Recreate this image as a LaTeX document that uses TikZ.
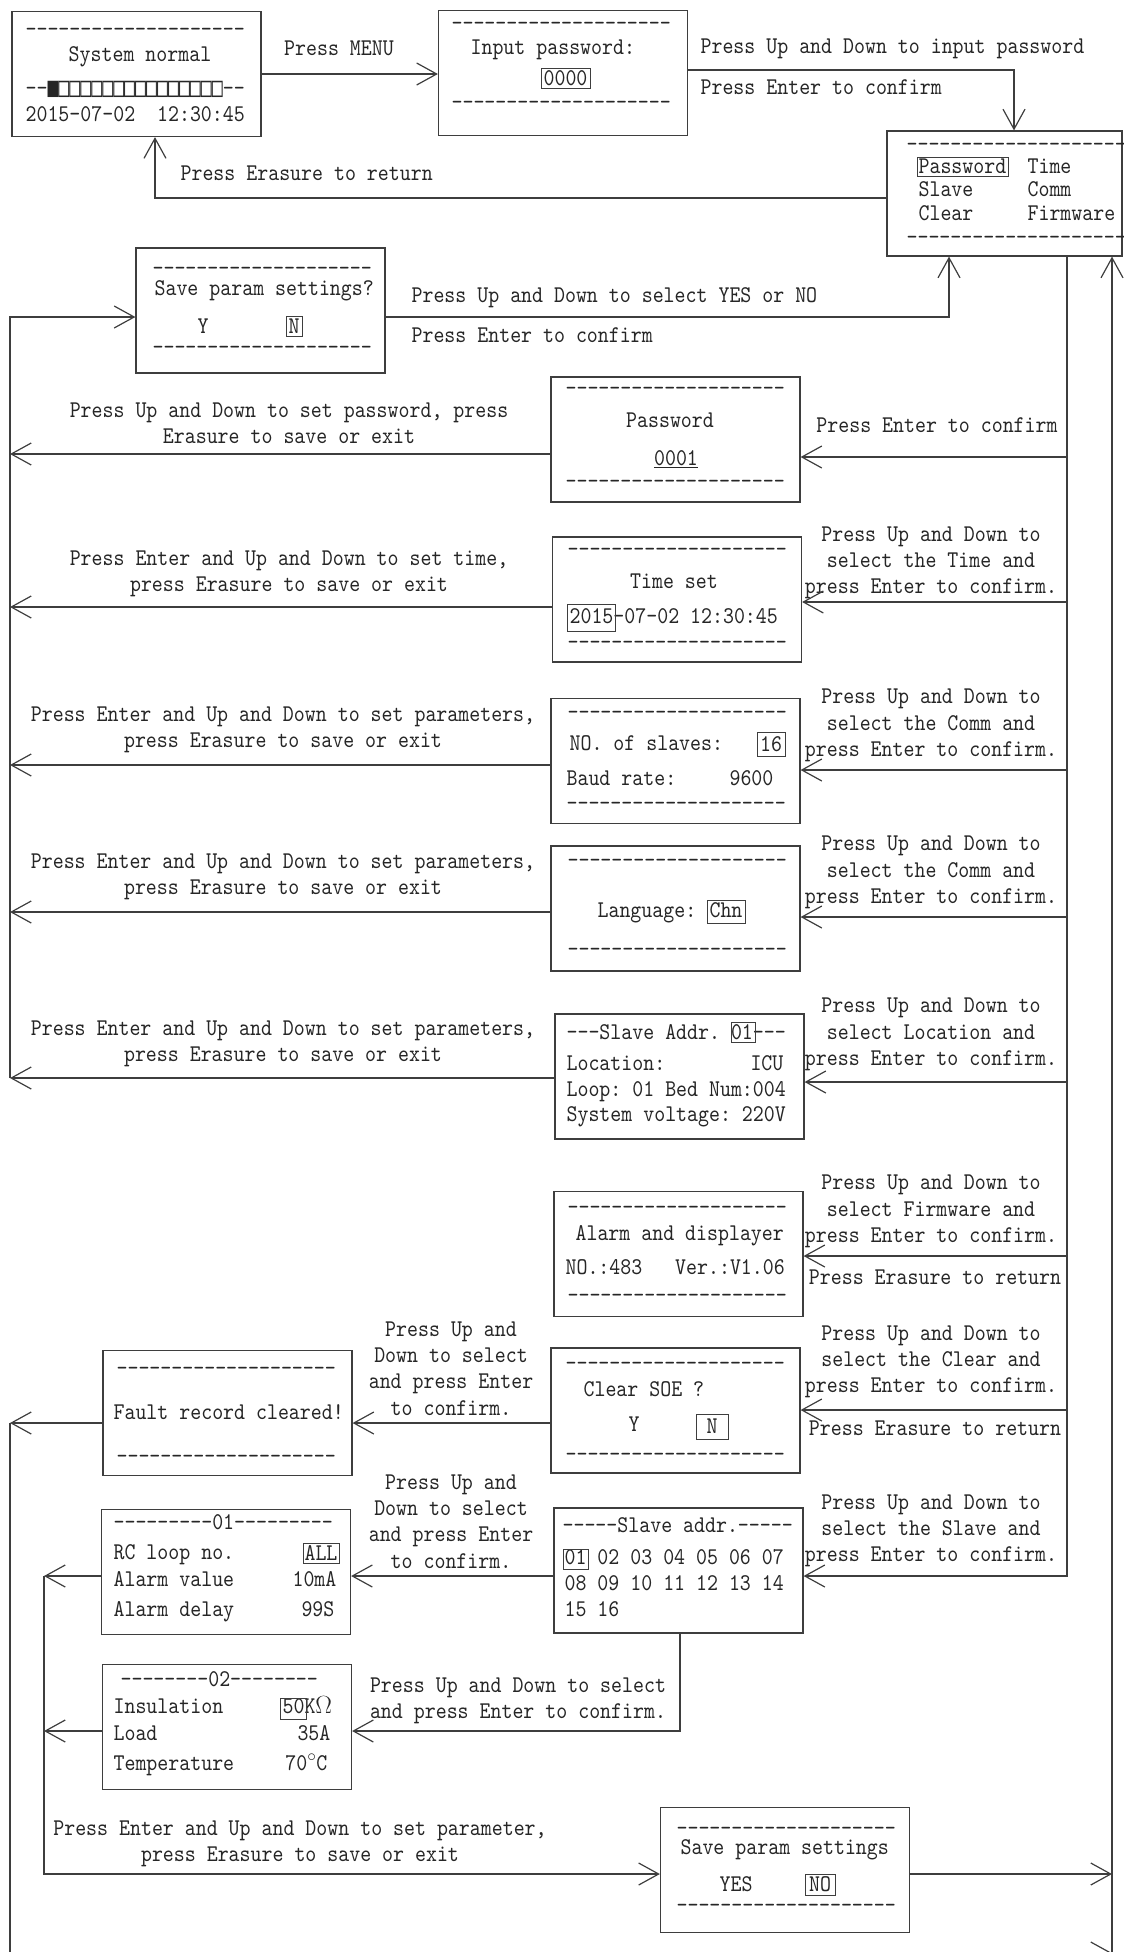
\documentclass[tikz,border=0pt]{standalone}
\usepackage{fontspec}
\usetikzlibrary{arrows.meta}
\newfontfamily\glyphfont{DejaVu Sans Mono}
\newfontfamily\lcdface{lmmono10-regular.otf}[FakeStretch=0.87]
\definecolor{ink}{HTML}{3E3E3E}
\newcommand{\lcdfont}{\lcdface\fontsize{24pt}{26.3pt}\selectfont\frenchspacing}
\newcommand{\dashes}[1]{\foreach \dd in {1,...,#1}{-\kern0pt}}
\newcommand{\sqfont}{\glyphfont\fontsize{18.2pt}{20pt}\selectfont}

\tikzset{
    screen/.style={draw, minimum width=249pt, minimum height=125pt, inner sep=0pt},
    lcd/.style={font=\lcdfont, inner sep=0pt, text height=14.6pt, text depth=0pt},
    note/.style={font=\lcdfont, inner sep=0pt, align=center},
    cursor/.style={draw, inner sep=0pt, line width=1pt},
    flow/.style={->}
}

\begin{document}
\begin{tikzpicture}[x=1pt, y=-1pt, color=ink, text=black!85, line width=1.2pt, >={Straight Barb[length=20pt,width=22pt]}]
    \useasboundingbox (0,0) rectangle (1124,1952);

    % screens
    \node[screen] (sys) at (136.5,74) {};
    \node[screen] (pwin) at (563,73) {};
    \node[screen, minimum width=235pt] (menu) at (1004.5,193.5) {};
    \node[screen] (saveq) at (260.5,310.5) {};
    \node[screen] (pwset) at (675.5,439.5) {};
    \node[screen] (tmset) at (677,599.5) {};
    \node[screen] (comm) at (675.5,761) {};
    \node[screen] (lang) at (675.5,908.5) {};
    \node[screen] (slv) at (679.5,1076.5) {};
    \node[screen] (fw) at (678.5,1254) {};
    \node[screen] (clr) at (675.5,1410.5) {};
    \node[screen] (done) at (227.5,1413) {};
    \node[screen] (sel) at (678.5,1570.5) {};
    \node[screen] (lp1) at (226,1572) {};
    \node[screen] (lp2) at (227,1727) {};
    \node[screen] (fin) at (785,1870) {};

    % screen contents
    \node[lcd, anchor=west] (sys1) at (25,29) {\dashes{20}};
    \node[lcd] (sys2) at (140,54) {System normal};
    \node[lcd, anchor=west] (sys3) at (25,88) {\dashes{2}\raisebox{-1pt}{\scalebox{1}[1.5]{\sqfont ■□□□□□□□□□□□□□□□}}\dashes{2}};
    \node[lcd, anchor=west] (sys4) at (25,114) {2015-07-02~~12:30:45};

    \node[lcd, anchor=west] (pwin1) at (451,23) {\dashes{20}};
    \node[lcd, anchor=west] (pwin2) at (470,47) {Input password:};
    \node[lcd] (pwin3) at (565.5,78) {0000};
    \node[cursor, minimum width=49pt, minimum height=20pt] (pwin4) at (565.5,78) {};
    \node[lcd, anchor=west] (pwin5) at (451,102) {\dashes{20}};

    \node[lcd, anchor=west] (m0) at (906,144) {\dashes{20}};
    \node[lcd, anchor=west] (m1) at (918,166) {Password};
    \node[cursor, minimum width=91pt, minimum height=19pt] (m1c) at (962.5,166.5) {};
    \node[lcd, anchor=west] (m2) at (1027,166) {Time};
    \node[lcd, anchor=west] (m3) at (918,189) {Slave};
    \node[lcd, anchor=west] (m4) at (1027,189) {Comm};
    \node[lcd, anchor=west] (m5) at (918,213) {Clear};
    \node[lcd, anchor=west] (m6) at (1027,213) {Firmware};
    \node[lcd, anchor=west] (m7) at (906,237) {\dashes{20}};

    \node[lcd, anchor=west] (sq1) at (152,268) {\dashes{20}};
    \node[lcd, anchor=west] (sq2) at (154,288) {Save param settings?};
    \node[lcd] (sq3) at (203,326) {Y};
    \node[lcd] (sq4) at (294,326) {N};
    \node[cursor, minimum width=16pt, minimum height=20pt] (sq5) at (294,326.5) {};
    \node[lcd, anchor=west] (sq6) at (152,347) {\dashes{20}};

    \node[lcd, anchor=west] (ps1) at (565,388) {\dashes{20}};
    \node[lcd] (ps2) at (670,420) {Password};
    \node[lcd] (ps3) at (676,458) {\underline{0001}};
    \node[lcd, anchor=west] (ps4) at (565,481) {\dashes{20}};

    \node[lcd, anchor=west] (ts1) at (567,549) {\dashes{20}};
    \node[lcd] (ts2) at (674,581) {Time set};
    \node[lcd, anchor=west] (ts3) at (569,616) {2015-07-02 12:30:45};
    \node[cursor, minimum width=48pt, minimum height=27pt] (ts4) at (591,617.5) {};
    \node[lcd, anchor=west] (ts5) at (567,642) {\dashes{20}};

    \node[lcd, anchor=west] (cm1) at (567,712) {\dashes{20}};
    \node[lcd, anchor=west] (cm2) at (569,743) {NO. of slaves:};
    \node[lcd] (cm3) at (771,744) {16};
    \node[cursor, minimum width=28pt, minimum height=24pt] (cm4) at (771,744) {};
    \node[lcd, anchor=west] (cm5) at (566,778) {Baud rate:};
    \node[lcd, anchor=east] (cm6) at (774,778) {9600};
    \node[lcd, anchor=west] (cm7) at (566,803) {\dashes{20}};

    \node[lcd, anchor=west] (lg1) at (567,860) {\dashes{20}};
    \node[lcd, anchor=west] (lg2) at (597,910) {Language:};
    \node[lcd] (lg3) at (726,910) {Chn};
    \node[cursor, minimum width=38pt, minimum height=23pt] (lg4) at (726,911.5) {};
    \node[lcd, anchor=west] (lg5) at (567,949) {\dashes{20}};

    \node[lcd, anchor=west] (sa1) at (566,1032) {\dashes{3}Slave Addr. 01\dashes{3}};
    \node[cursor, minimum width=24pt, minimum height=20pt] (sa2) at (743,1032) {};
    \node[lcd, anchor=west] (sa3) at (566,1063) {Location:};
    \node[lcd, anchor=east] (sa4) at (784,1063) {ICU};
    \node[lcd, anchor=west] (sa5) at (566,1089) {Loop: 01 Bed Num:004};
    \node[lcd, anchor=west] (sa6) at (566,1114) {System voltage: 220V};

    \node[lcd, anchor=west] (fw1) at (567,1207) {\dashes{20}};
    \node[lcd, anchor=west] (fw2) at (575,1233) {Alarm and displayer};
    \node[lcd, anchor=west] (fw3) at (565,1267) {NO.:483~~~Ver.:V1.06};
    \node[lcd, anchor=west] (fw4) at (567,1295) {\dashes{20}};

    \node[lcd, anchor=west] (cl1) at (565,1363) {\dashes{20}};
    \node[lcd, anchor=west] (cl2) at (583,1389) {Clear SOE ?};
    \node[lcd] (cl3) at (634,1424) {Y};
    \node[lcd] (cl4) at (712,1426) {N};
    \node[cursor, minimum width=32pt, minimum height=25pt] (cl5) at (712,1426.5) {};
    \node[lcd, anchor=west] (cl6) at (565,1454) {\dashes{20}};

    \node[lcd, anchor=west] (dn1) at (116,1368) {\dashes{20}};
    \node[lcd, anchor=west] (dn2) at (113,1412) {Fault record cleared!};
    \node[lcd, anchor=west] (dn3) at (116,1456) {\dashes{20}};

    \node[lcd, anchor=west] (se1) at (562,1525) {\dashes{5}Slave addr.\dashes{5}};
    \node[lcd, anchor=west] (se2) at (564,1557) {01 02 03 04 05 06 07};
    \node[cursor, minimum width=25pt, minimum height=20pt] (se3) at (575.5,1559) {};
    \node[lcd, anchor=west] (se4) at (564,1583) {08 09 10 11 12 13 14};
    \node[lcd, anchor=west] (se5) at (564,1609) {15 16};

    \node[lcd, anchor=west] (l1a) at (113,1522) {\dashes{9}01\dashes{9}};
    \node[lcd, anchor=west] (l1b) at (113,1552) {RC loop no.};
    \node[lcd] (l1c) at (321,1553) {ALL};
    \node[cursor, minimum width=36pt, minimum height=20pt] (l1d) at (321,1553) {};
    \node[lcd, anchor=west] (l1e) at (113,1579) {Alarm value};
    \node[lcd, anchor=east] (l1f) at (337,1579) {10mA};
    \node[lcd, anchor=west] (l1g) at (113,1609) {Alarm delay};
    \node[lcd, anchor=east] (l1h) at (335,1609) {99S};

    \node[lcd, anchor=west] (l2a) at (120,1679) {\dashes{8}02\dashes{8}};
    \node[lcd, anchor=west] (l2b) at (113,1706) {Insulation};
    \node[lcd, anchor=west] (l2c) at (282,1706) {50K$\Omega$};
    \node[cursor, minimum width=26pt, minimum height=21pt] (l2d) at (293,1708.5) {};
    \node[lcd, anchor=west] (l2e) at (113,1733) {Load};
    \node[lcd, anchor=east] (l2f) at (331,1733) {35A};
    \node[lcd, anchor=west] (l2g) at (113,1763) {Temperature};
    \node[lcd, anchor=east] (l2h) at (328,1763) {70$^{\circ}$C};

    \node[lcd, anchor=west] (fn1) at (676,1828) {\dashes{20}};
    \node[lcd, anchor=west] (fn2) at (680,1847) {Save param settings};
    \node[lcd, anchor=west] (fn3) at (719,1884) {YES};
    \node[lcd] (fn4) at (820,1884) {NO};
    \node[cursor, minimum width=30pt, minimum height=21pt] (fn5) at (820,1884.5) {};
    \node[lcd, anchor=west] (fn6) at (676,1905) {\dashes{20}};

    % key hints
    \node[lcd] (hMenu) at (339,48) {Press MENU};
    \node[lcd, anchor=west] (hIn1) at (700,46) {Press Up and Down to input password};
    \node[lcd, anchor=west] (hIn2) at (700,87) {Press Enter to confirm};
    \node[lcd, anchor=west] (hRet) at (180,173) {Press Erasure to return};
    \node[lcd, anchor=west] (hYN1) at (411,295) {Press Up and Down to select YES or NO};
    \node[lcd, anchor=west] (hYN2) at (411,335) {Press Enter to confirm};
    \node[lcd] (hPw) at (937,425) {Press Enter to confirm};

    \foreach \nm/\y/\what in {tm/563/the Time, cm/725.5/the Comm, lg/872.5/the Comm, sa/1034.5/Location, fw/1211.5/Firmware, cl/1362/the Clear, se/1531/the Slave}
        \node[note] (r\nm) at (931,\y) {Press Up and Down to\\select \what{} and\\press Enter to confirm.};

    \node[lcd] (hFw) at (935,1277) {Press Erasure to return};
    \node[lcd] (hCl) at (935,1428) {Press Erasure to return};

    \node[note] (hPwL) at (289,423) {Press Up and Down to set password, press\\Erasure to save or exit};
    \node[note] (hTmL) at (289,573.5) {Press Enter and Up and Down to set time,\\press Erasure to save or exit};
    \foreach \nm/\y in {cm/730, lg/877, sa/1043.5}
        \node[note] (h\nm L) at (283,\y) {Press Enter and Up and Down to set parameters,\\press Erasure to save or exit};

    \node[note] (hDone) at (451,1368.5) {Press Up and\\Down to select\\and press Enter\\to confirm.};
    \node[note] (hLp1) at (451,1521.5) {Press Up and\\Down to select\\and press Enter\\to confirm.};
    \node[note] (hLp2) at (518,1701) {Press Up and Down to select\\and press Enter to confirm.};
    \node[note] (hFin) at (300,1843.5) {Press Enter and Up and Down to set parameter,\\press Erasure to save or exit};

    % top row
    \draw[flow] (sys.east) -- (sys.east -| pwin.west);
    \coordinate (k1) at (1014,70);
    \draw[flow] (pwin.east |- k1) -- (k1) -- (k1 |- menu.north);
    \coordinate (k2) at (155,198);
    \draw[flow] (menu.west |- k2) -- (k2) -- (k2 |- sys.south);
    \coordinate (k3) at (949,317);
    \draw[flow] (saveq.east |- k3) -- (k3) -- (k3 |- menu.south);

    % menu trunk
    \coordinate (ra) at (1067,1576);
    \draw[flow] (menu.south -| ra) -- (ra) -- (ra -| sel.east);
    \foreach \n/\y in {pwset/457, tmset/602, comm/770, lang/917, slv/1082, fw/1256, clr/1410} {
        \coordinate (a\n) at (1067,\y);
        \draw[flow] (a\n) -- (a\n -| \n.east);
    }

    % back to save
    \coordinate (lt) at (10,317);
    \coordinate (lb) at (10,1078);
    \draw[flow] (lb) -- (lt) -- (lt -| saveq.west);
    \foreach \n/\y in {pwset/454, tmset/607, comm/765, lang/912, slv/1078} {
        \coordinate (b\n) at (10,\y);
        \draw[flow] (\n.west |- b\n) -- (b\n);
    }

    % clear and slave
    \coordinate (lc) at (10,1423);
    \coordinate (ld) at (10,1953);
    \coordinate (rb) at (1112,1953);
    \draw[flow] (clr.west |- lc) -- (lc -| done.east);
    \draw[flow] (done.west |- lc) -- (lc);
    \draw[flow] (lc) -- (ld) -- (rb);
    \draw[flow] (rb) -- (rb |- menu.south);
    \draw[flow] (ra -| sel.west) -- (ra -| lp1.east);
    \coordinate (li) at (44,1576);
    \coordinate (li2) at (44,1731);
    \coordinate (lj) at (44,1874);
    \draw[flow] (lp1.west |- li) -- (li);
    \draw[flow] (lp2.west |- li2) -- (li2);
    \draw[flow] (li) -- (lj) -- (lj -| fin.west);
    \coordinate (k4) at (680,1731);
    \draw[flow] (sel.south -| k4) -- (k4) -- (k4 -| lp2.east);
    \draw[flow] (fin.east |- lj) -- (lj -| rb);

\end{tikzpicture}
\end{document}
